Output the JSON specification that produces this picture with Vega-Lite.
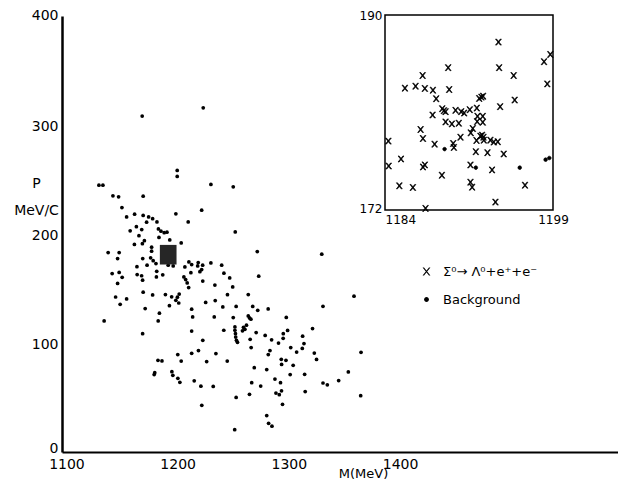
{
  "$schema": "https://vega.github.io/schema/vega-lite/v6.json",
  "width": 556,
  "height": 436,
  "autosize": "none",
  "padding": {"left": 62, "top": 16, "right": 0, "bottom": 40},
  "background": "white",
  "config": {
    "view": {"stroke": null},
    "font": "DejaVu Sans",
    "axis": {"grid": false, "ticks": false, "labelColor": "black", "titleColor": "black", "domainColor": "black", "labelFont": "DejaVu Sans", "titleFont": "DejaVu Sans", "titleFontWeight": "normal"}
  },
  "datasets": {
    "background": [
      {"M":1168.1,"P":308.2},{"M":1223.0,"P":315.8},{"M":1199.6,"P":258.3},{"M":1199.6,"P":252.8},{"M":1129.2,"P":244.8},{"M":1132.8,"P":244.8},{"M":1229.9,"P":245.5},{"M":1250.0,"P":243.3},{"M":1141.8,"P":235.0},{"M":1146.9,"P":234.1},{"M":1169.0,"P":234.7},{"M":1149.9,"P":224.3},{"M":1198.4,"P":218.5},{"M":1221.6,"P":221.9},{"M":1154.1,"P":215.7},{"M":1161.3,"P":218.2},{"M":1169.0,"P":217.0},{"M":1173.9,"P":215.7},{"M":1177.5,"P":214.1},{"M":1181.4,"P":211.1},{"M":1172.1,"P":210.8},{"M":1209.5,"P":211.1},{"M":1162.9,"P":206.7},{"M":1157.3,"P":202.9},{"M":1167.7,"P":204.1},{"M":1182.7,"P":204.6},{"M":1185.0,"P":202.6},{"M":1187.9,"P":201.2},{"M":1190.4,"P":201.7},{"M":1251.8,"P":201.9},{"M":1165.2,"P":198.4},{"M":1183.2,"P":196.9},{"M":1170.1,"P":193.9},{"M":1168.3,"P":191.1},{"M":1161.1,"P":190.4},{"M":1192.9,"P":194.5},{"M":1203.2,"P":191.8},{"M":1176.6,"P":187.9},{"M":1176.6,"P":184.2},{"M":1137.5,"P":183.0},{"M":1147.4,"P":183.0},{"M":1146.0,"P":177.5},{"M":1168.6,"P":177.5},{"M":1271.6,"P":183.9},{"M":1329.6,"P":181.5},{"M":1175.7,"P":178.1},{"M":1178.0,"P":175.5},{"M":1180.5,"P":172.9},{"M":1191.5,"P":171.4},{"M":1196.0,"P":170.7},{"M":1163.4,"P":170.0},{"M":1172.5,"P":171.4},{"M":1206.5,"P":169.8},{"M":1210.1,"P":174.4},{"M":1212.6,"P":172.0},{"M":1218.5,"P":173.8},{"M":1218.0,"P":170.7},{"M":1222.5,"P":171.4},{"M":1229.9,"P":173.5},{"M":1239.6,"P":171.4},{"M":1141.1,"P":163.7},{"M":1147.4,"P":164.7},{"M":1150.1,"P":160.3},{"M":1163.6,"P":162.8},{"M":1167.6,"P":161.7},{"M":1168.5,"P":157.6},{"M":1181.2,"P":165.8},{"M":1180.9,"P":160.6},{"M":1186.6,"P":162.6},{"M":1220.0,"P":165.4},{"M":1221.6,"P":167.4},{"M":1211.9,"P":164.5},{"M":1205.6,"P":160.6},{"M":1207.2,"P":158.2},{"M":1208.6,"P":155.1},{"M":1209.9,"P":150.9},{"M":1241.6,"P":164.0},{"M":1246.8,"P":159.7},{"M":1272.9,"P":161.3},{"M":1146.0,"P":154.6},{"M":1222.6,"P":156.8},{"M":1233.5,"P":153.2},{"M":1249.5,"P":151.4},{"M":1169.0,"P":146.6},{"M":1177.5,"P":144.1},{"M":1189.0,"P":144.4},{"M":1201.4,"P":144.9},{"M":1199.8,"P":142.0},{"M":1198.4,"P":139.2},{"M":1201.0,"P":136.7},{"M":1194.6,"P":142.4},{"M":1263.5,"P":144.4},{"M":1244.8,"P":144.3},{"M":1144.2,"P":142.2},{"M":1154.1,"P":140.4},{"M":1148.3,"P":135.5},{"M":1192.6,"P":134.2},{"M":1225.2,"P":137.2},{"M":1233.8,"P":138.9},{"M":1240.6,"P":133.1},{"M":1252.6,"P":133.5},{"M":1267.5,"P":133.5},{"M":1272.0,"P":130.0},{"M":1281.4,"P":131.2},{"M":1170.8,"P":131.6},{"M":1212.6,"P":131.0},{"M":1213.5,"P":123.9},{"M":1183.6,"P":127.3},{"M":1182.5,"P":120.2},{"M":1133.9,"P":120.2},{"M":1232.9,"P":123.9},{"M":1250.0,"P":123.3},{"M":1263.5,"P":124.8},{"M":1264.6,"P":123.0},{"M":1265.9,"P":121.8},{"M":1297.7,"P":123.4},{"M":1261.9,"P":116.3},{"M":1259.2,"P":114.4},{"M":1260.5,"P":112.6},{"M":1258.3,"P":111.2},{"M":1251.5,"P":114.7},{"M":1251.5,"P":111.7},{"M":1252.0,"P":108.6},{"M":1252.2,"P":105.5},{"M":1252.9,"P":102.5},{"M":1253.8,"P":100.6},{"M":1212.6,"P":110.9},{"M":1241.5,"P":111.7},{"M":1270.6,"P":109.6},{"M":1298.9,"P":111.5},{"M":1295.0,"P":108.6},{"M":1294.9,"P":104.3},{"M":1278.7,"P":106.9},{"M":1284.5,"P":102.9},{"M":1265.2,"P":103.4},{"M":1222.6,"P":102.5},{"M":1168.5,"P":108.6},{"M":1266.1,"P":95.8},{"M":1290.7,"P":99.9},{"M":1312.4,"P":106.3},{"M":1321.3,"P":113.2},{"M":1301.7,"P":95.8},{"M":1313.6,"P":99.5},{"M":1312.1,"P":95.0},{"M":1307.0,"P":91.7},{"M":1283.0,"P":93.1},{"M":1281.5,"P":89.4},{"M":1218.7,"P":93.1},{"M":1212.6,"P":90.5},{"M":1200.1,"P":89.4},{"M":1203.2,"P":83.4},{"M":1234.4,"P":90.3},{"M":1244.6,"P":83.4},{"M":1226.1,"P":83.0},{"M":1182.3,"P":84.1},{"M":1185.9,"P":83.5},{"M":1322.9,"P":90.8},{"M":1324.9,"P":84.9},{"M":1293.2,"P":85.0},{"M":1297.4,"P":84.1},{"M":1293.5,"P":80.3},{"M":1303.9,"P":79.5},{"M":1268.9,"P":77.4},{"M":1280.1,"P":75.6},{"M":1301.2,"P":71.0},{"M":1314.2,"P":71.3},{"M":1179.4,"P":72.8},{"M":1178.9,"P":71.0},{"M":1194.8,"P":73.7},{"M":1195.7,"P":70.3},{"M":1200.2,"P":67.6},{"M":1202.0,"P":63.9},{"M":1214.9,"P":65.3},{"M":1220.9,"P":60.4},{"M":1232.0,"P":60.2},{"M":1266.6,"P":63.6},{"M":1274.7,"P":60.5},{"M":1287.5,"P":66.9},{"M":1292.5,"P":63.6},{"M":1288.4,"P":54.1},{"M":1291.4,"P":52.6},{"M":1293.4,"P":56.1},{"M":1264.6,"P":52.9},{"M":1314.7,"P":55.5},{"M":1294.3,"P":43.7},{"M":1252.6,"P":50.1},{"M":1221.7,"P":42.8},{"M":1280.1,"P":33.4},{"M":1281.8,"P":26.3},{"M":1284.8,"P":23.7},{"M":1251.3,"P":20.5},{"M":1358.6,"P":142.9},{"M":1330.7,"P":133.7},{"M":1364.9,"P":91.5},{"M":1353.5,"P":73.4},{"M":1344.8,"P":65.5},{"M":1330.7,"P":63.3},{"M":1334.6,"P":61.6},{"M":1364.6,"P":51.7}
    ],
    "box": [{"m1": 1184, "m2": 1199, "p1": 172, "p2": 190}],
    "inset": [
      {"M":1194.13,"P":187.50,"event":"Σ⁰→ Λ⁰+e⁺+e⁻"},{"M":1198.76,"P":186.36,"event":"Σ⁰→ Λ⁰+e⁺+e⁻"},{"M":1198.20,"P":185.69,"event":"Σ⁰→ Λ⁰+e⁺+e⁻"},{"M":1198.49,"P":183.64,"event":"Σ⁰→ Λ⁰+e⁺+e⁻"},{"M":1194.19,"P":185.14,"event":"Σ⁰→ Λ⁰+e⁺+e⁻"},{"M":1195.49,"P":184.41,"event":"Σ⁰→ Λ⁰+e⁺+e⁻"},{"M":1189.64,"P":185.14,"event":"Σ⁰→ Λ⁰+e⁺+e⁻"},{"M":1187.36,"P":184.41,"event":"Σ⁰→ Λ⁰+e⁺+e⁻"},{"M":1185.78,"P":183.25,"event":"Σ⁰→ Λ⁰+e⁺+e⁻"},{"M":1186.73,"P":183.43,"event":"Σ⁰→ Λ⁰+e⁺+e⁻"},{"M":1187.56,"P":183.22,"event":"Σ⁰→ Λ⁰+e⁺+e⁻"},{"M":1188.28,"P":183.06,"event":"Σ⁰→ Λ⁰+e⁺+e⁻"},{"M":1189.73,"P":183.12,"event":"Σ⁰→ Λ⁰+e⁺+e⁻"},{"M":1188.57,"P":182.27,"event":"Σ⁰→ Λ⁰+e⁺+e⁻"},{"M":1192.61,"P":182.42,"event":"Σ⁰→ Λ⁰+e⁺+e⁻"},{"M":1192.76,"P":182.51,"event":"Σ⁰→ Λ⁰+e⁺+e⁻"},{"M":1192.41,"P":182.30,"event":"Σ⁰→ Λ⁰+e⁺+e⁻"},{"M":1195.58,"P":182.15,"event":"Σ⁰→ Λ⁰+e⁺+e⁻"},{"M":1194.28,"P":181.54,"event":"Σ⁰→ Λ⁰+e⁺+e⁻"},{"M":1189.11,"P":181.35,"event":"Σ⁰→ Λ⁰+e⁺+e⁻"},{"M":1189.26,"P":181.17,"event":"Σ⁰→ Λ⁰+e⁺+e⁻"},{"M":1189.41,"P":181.08,"event":"Σ⁰→ Λ⁰+e⁺+e⁻"},{"M":1188.25,"P":180.77,"event":"Σ⁰→ Λ⁰+e⁺+e⁻"},{"M":1190.30,"P":181.20,"event":"Σ⁰→ Λ⁰+e⁺+e⁻"},{"M":1190.80,"P":181.08,"event":"Σ⁰→ Λ⁰+e⁺+e⁻"},{"M":1191.07,"P":180.95,"event":"Σ⁰→ Λ⁰+e⁺+e⁻"},{"M":1191.57,"P":181.26,"event":"Σ⁰→ Λ⁰+e⁺+e⁻"},{"M":1192.20,"P":181.41,"event":"Σ⁰→ Λ⁰+e⁺+e⁻"},{"M":1192.26,"P":180.65,"event":"Σ⁰→ Λ⁰+e⁺+e⁻"},{"M":1192.73,"P":180.65,"event":"Σ⁰→ Λ⁰+e⁺+e⁻"},{"M":1192.23,"P":180.16,"event":"Σ⁰→ Λ⁰+e⁺+e⁻"},{"M":1192.73,"P":180.10,"event":"Σ⁰→ Λ⁰+e⁺+e⁻"},{"M":1189.41,"P":180.13,"event":"Σ⁰→ Λ⁰+e⁺+e⁻"},{"M":1189.97,"P":179.95,"event":"Σ⁰→ Λ⁰+e⁺+e⁻"},{"M":1190.59,"P":180.01,"event":"Σ⁰→ Λ⁰+e⁺+e⁻"},{"M":1187.18,"P":179.43,"event":"Σ⁰→ Λ⁰+e⁺+e⁻"},{"M":1187.39,"P":178.60,"event":"Σ⁰→ Λ⁰+e⁺+e⁻"},{"M":1191.84,"P":179.52,"event":"Σ⁰→ Λ⁰+e⁺+e⁻"},{"M":1191.66,"P":179.12,"event":"Σ⁰→ Λ⁰+e⁺+e⁻"},{"M":1190.74,"P":178.72,"event":"Σ⁰→ Λ⁰+e⁺+e⁻"},{"M":1192.67,"P":178.91,"event":"Σ⁰→ Λ⁰+e⁺+e⁻"},{"M":1192.52,"P":178.82,"event":"Σ⁰→ Λ⁰+e⁺+e⁻"},{"M":1192.79,"P":178.72,"event":"Σ⁰→ Λ⁰+e⁺+e⁻"},{"M":1192.17,"P":178.42,"event":"Σ⁰→ Λ⁰+e⁺+e⁻"},{"M":1192.82,"P":178.45,"event":"Σ⁰→ Λ⁰+e⁺+e⁻"},{"M":1193.41,"P":178.45,"event":"Σ⁰→ Λ⁰+e⁺+e⁻"},{"M":1193.71,"P":178.27,"event":"Σ⁰→ Λ⁰+e⁺+e⁻"},{"M":1194.07,"P":178.30,"event":"Σ⁰→ Λ⁰+e⁺+e⁻"},{"M":1188.43,"P":178.08,"event":"Σ⁰→ Λ⁰+e⁺+e⁻"},{"M":1190.09,"P":178.14,"event":"Σ⁰→ Λ⁰+e⁺+e⁻"},{"M":1190.15,"P":177.78,"event":"Σ⁰→ Λ⁰+e⁺+e⁻"},{"M":1184.30,"P":178.36,"event":"Σ⁰→ Λ⁰+e⁺+e⁻"},{"M":1192.11,"P":177.38,"event":"Σ⁰→ Λ⁰+e⁺+e⁻"},{"M":1193.15,"P":177.29,"event":"Σ⁰→ Λ⁰+e⁺+e⁻"},{"M":1194.60,"P":177.17,"event":"Σ⁰→ Λ⁰+e⁺+e⁻"},{"M":1185.43,"P":176.71,"event":"Σ⁰→ Λ⁰+e⁺+e⁻"},{"M":1184.33,"P":176.06,"event":"Σ⁰→ Λ⁰+e⁺+e⁻"},{"M":1187.39,"P":175.97,"event":"Σ⁰→ Λ⁰+e⁺+e⁻"},{"M":1187.56,"P":176.16,"event":"Σ⁰→ Λ⁰+e⁺+e⁻"},{"M":1191.63,"P":176.16,"event":"Σ⁰→ Λ⁰+e⁺+e⁻"},{"M":1193.56,"P":175.70,"event":"Σ⁰→ Λ⁰+e⁺+e⁻"},{"M":1189.08,"P":175.21,"event":"Σ⁰→ Λ⁰+e⁺+e⁻"},{"M":1185.28,"P":174.23,"event":"Σ⁰→ Λ⁰+e⁺+e⁻"},{"M":1186.49,"P":174.08,"event":"Σ⁰→ Λ⁰+e⁺+e⁻"},{"M":1191.63,"P":174.57,"event":"Σ⁰→ Λ⁰+e⁺+e⁻"},{"M":1191.78,"P":174.11,"event":"Σ⁰→ Λ⁰+e⁺+e⁻"},{"M":1196.50,"P":174.29,"event":"Σ⁰→ Λ⁰+e⁺+e⁻"},{"M":1193.86,"P":172.73,"event":"Σ⁰→ Λ⁰+e⁺+e⁻"},{"M":1187.62,"P":172.15,"event":"Σ⁰→ Λ⁰+e⁺+e⁻"},
      {"M":1189.32,"P":177.62,"event":"Background"},{"M":1192.11,"P":175.91,"event":"Background"},{"M":1196.03,"P":175.91,"event":"Background"},{"M":1198.34,"P":176.65,"event":"Background"},{"M":1198.67,"P":176.80,"event":"Background"}
    ]
  },
  "layer": [
    {
      "layer": [
        {
          "data": {"name": "background"},
          "mark": {"type": "circle", "size": 14, "color": "black", "opacity": 1},
          "encoding": {
            "x": {"field": "M", "type": "quantitative", "scale": {"domain": [1096, 1596], "nice": false, "zero": false},
              "axis": {"orient": "bottom", "values": [1100, 1200, 1300, 1400], "format": "d", "labelFlush": false, "labelFontSize": 14, "labelPadding": 5, "domainWidth": 2, "title": "M(MeV)", "titleFontSize": 13, "titleX": 301, "titleY": 21, "titleAlign": "center", "titleBaseline": "middle"}},
            "y": {"field": "P", "type": "quantitative", "scale": {"domain": [0, 400], "nice": false, "zero": false},
              "axis": {"orient": "left", "values": [0, 100, 200, 300, 400], "labelFontSize": 14, "labelPadding": 4, "labelOffset": {"expr": "datum.value == 0 ? -4 : (datum.value == 400 ? -1 : 1)"}, "domainWidth": 2.5, "title": ["P", "MeV/C"], "titleFontSize": 14, "titleAngle": 0, "titleX": -26, "titleY": 160, "titleAlign": "center", "titleBaseline": "top", "titleLineHeight": 27}}
          }
        },
        {
          "data": {"name": "box"},
          "mark": {"type": "rect", "fill": "#262626"},
          "encoding": {
            "x": {"field": "m1", "type": "quantitative"},
            "x2": {"field": "m2"},
            "y": {"field": "p1", "type": "quantitative"},
            "y2": {"field": "p2"}
          }
        }
      ]
    },
    {
      "layer": [
        {
          "data": {"name": "box"},
          "mark": {"type": "rect", "filled": false, "stroke": "black", "strokeWidth": 1.5},
          "encoding": {
            "x": {"field": "m1", "type": "quantitative", "scale": {"domain": [1184, 1199], "range": [323, 491], "nice": false, "zero": false},
              "axis": {"orient": "bottom", "values": [1184, 1199], "format": "d", "offset": -242, "domain": false, "labelFlush": false, "labelFontSize": 12, "labelPadding": 4, "labelAlign": {"expr": "datum.value == 1184 ? 'left' : 'center'"}, "title": null}},
            "x2": {"field": "m2"},
            "y": {"field": "p1", "type": "quantitative", "scale": {"domain": [172, 190], "range": [194, -1], "nice": false, "zero": false},
              "axis": {"orient": "left", "values": [172, 190], "format": "d", "offset": -323, "domain": false, "labelFontSize": 12, "labelPadding": 3, "labelOffset": {"expr": "datum.value == 172 ? -2 : 0"}, "title": null}},
            "y2": {"field": "p2"}
          }
        },
        {
          "data": {"name": "inset"},
          "mark": {"type": "point", "filled": true, "color": "black", "stroke": "black", "strokeWidth": 0.7, "size": 36, "opacity": 1},
          "encoding": {
            "x": {"field": "M", "type": "quantitative"},
            "y": {"field": "P", "type": "quantitative"},
            "shape": {"field": "event", "type": "nominal",
              "scale": {"domain": ["Σ⁰→ Λ⁰+e⁺+e⁻", "Background"], "range": ["M-0.98,-1L-0.62,-1L0.98,1L0.62,1ZM0.62,-1L0.98,-1L-0.62,1L-0.98,1Z", "M0,-0.6A0.6,0.6,0,1,1,0,0.6A0.6,0.6,0,1,1,0,-0.6Z"]},
              "legend": {"orient": "none", "legendX": 358, "legendY": 249, "title": null, "padding": 0, "labelFontSize": 13, "labelFont": "DejaVu Sans", "labelColor": "black", "symbolSize": 64, "symbolStrokeWidth": 0.8, "symbolFillColor": "black", "symbolStrokeColor": "black", "rowPadding": 14, "labelOffset": 10,
                "encode": {"symbols": {"update": {"fill": {"value": "black"}, "stroke": {"value": "black"}, "strokeWidth": {"value": 0.8}, "opacity": {"value": 1}}}}}}
          }
        }
      ]
    }
  ],
  "resolve": {"scale": {"x": "independent", "y": "independent"}, "axis": {"x": "independent", "y": "independent"}}
}
